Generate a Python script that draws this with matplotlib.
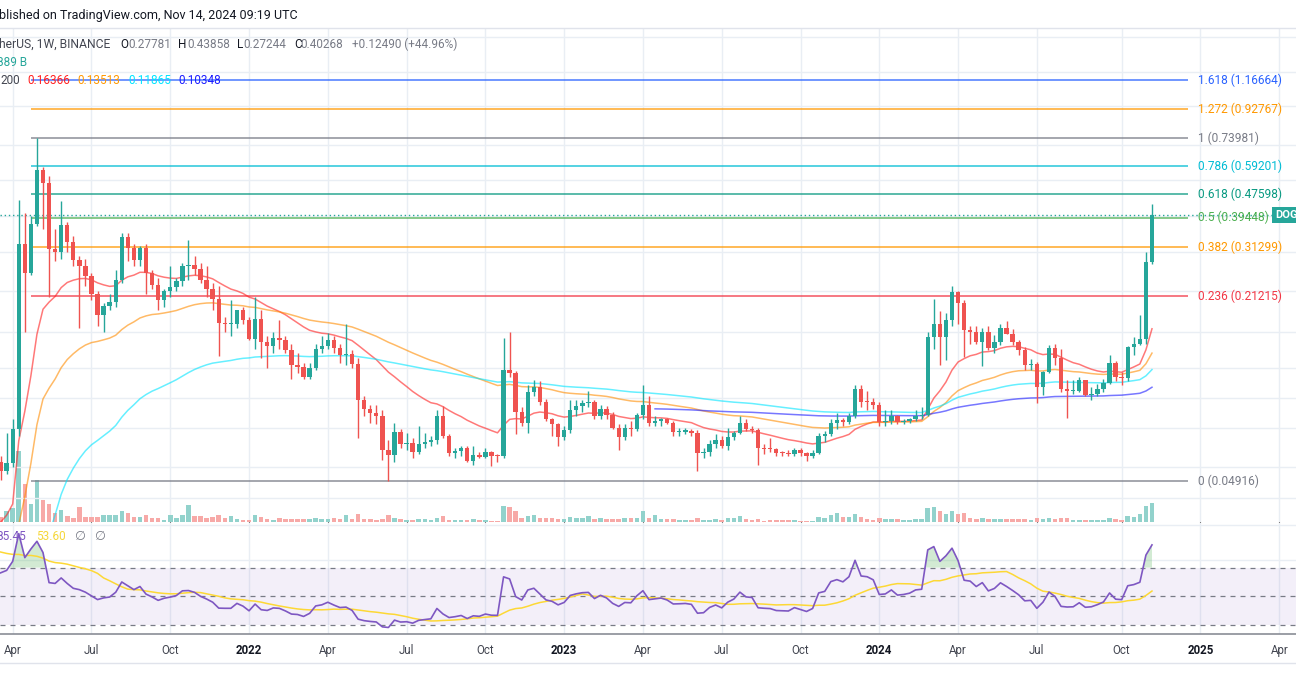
import numpy as np
import pandas as pd
import matplotlib
matplotlib.use("Agg")
import matplotlib.pyplot as plt
from matplotlib.lines import Line2D

plt.rcParams["font.family"] = ["Roboto", "DejaVu Sans"]

# weekly closes before the visible window (Jul 2019 .. Mar 15 2021), warm-up for EMA / RSI
hist_closes = [
    0.0032, 0.0031, 0.0030, 0.0029, 0.0031, 0.0028, 0.0027, 0.0026, 0.0026,
    0.0025, 0.0025, 0.0025, 0.0024, 0.0024, 0.0026, 0.0027, 0.0027, 0.0028,
    0.0028, 0.0027, 0.0024, 0.0022, 0.0021, 0.0020, 0.0020, 0.0020, 0.0020,
    0.0021, 0.0023, 0.0024, 0.0025, 0.0026, 0.0030, 0.0028, 0.0025, 0.0022,
    0.0017, 0.0017, 0.0018, 0.0019, 0.0019, 0.0020, 0.0021, 0.0025, 0.0025,
    0.0025, 0.0026, 0.0026, 0.0026, 0.0025, 0.0025, 0.0024, 0.0025, 0.0025,
    0.0033, 0.0032, 0.0032, 0.0032, 0.0034, 0.0033, 0.0035, 0.0029, 0.0027,
    0.0027, 0.0026, 0.0026, 0.0026, 0.0026, 0.0026, 0.0026, 0.0026, 0.0026,
    0.0027, 0.0032, 0.0034, 0.0034, 0.0033, 0.0045, 0.0047, 0.0050,
    0.0095, 0.0090, 0.0086, 0.0370, 0.0780, 0.0700, 0.0560, 0.0500, 0.0510,
    0.0590, 0.0572,
]

first_week = "2021-03-22"

opens = [
    0.0572, 0.0530, 0.0568, 0.0740, 0.3200, 0.2540, 0.3750, 0.5740, 0.5170, 0.3070,
    0.3000, 0.3720, 0.3250, 0.2820, 0.2700, 0.2480, 0.2160, 0.1820, 0.1960, 0.2030,
    0.2410, 0.3370, 0.3100, 0.2820, 0.3100, 0.2540, 0.2320, 0.2050, 0.2200, 0.2280,
    0.2380, 0.2700, 0.2720, 0.2620, 0.2400, 0.2250, 0.2070, 0.1710, 0.1700, 0.1700,
    0.1900, 0.1760, 0.1510, 0.1770, 0.1470, 0.1430, 0.1520, 0.1500, 0.1380, 0.1230,
    0.1210, 0.1120, 0.1200, 0.1400, 0.1430, 0.1500, 0.1410, 0.1330, 0.1340, 0.1240,
    0.0930, 0.0870, 0.0840, 0.0820, 0.0630, 0.0604, 0.0725, 0.0660, 0.0665, 0.0620,
    0.0660, 0.0670, 0.0680, 0.0820, 0.0700, 0.0614, 0.0625, 0.0640, 0.0575, 0.0606,
    0.0596, 0.0620, 0.0600, 0.0598, 0.1180, 0.1150, 0.0850, 0.0780, 0.0990, 0.1030,
    0.0920, 0.0800, 0.0770, 0.0695, 0.0736, 0.0860, 0.0890, 0.0910, 0.0915, 0.0820,
    0.0870, 0.0830, 0.0745, 0.0695, 0.0745, 0.0740, 0.0830, 0.0900, 0.0780, 0.0790,
    0.0800, 0.0775, 0.0725, 0.0727, 0.0730, 0.0720, 0.0614, 0.0618, 0.0660, 0.0680,
    0.0650, 0.0695, 0.0720, 0.0780, 0.0740, 0.0735, 0.0640, 0.0635, 0.0632, 0.0614,
    0.0612, 0.0610, 0.0628, 0.0614, 0.0600, 0.0614, 0.0700, 0.0710, 0.0780, 0.0796,
    0.0785, 0.0825, 0.1016, 0.0920, 0.0915, 0.0895, 0.0785, 0.0790, 0.0825, 0.0785,
    0.0790, 0.0800, 0.0825, 0.0830, 0.1540, 0.1700, 0.1540, 0.1760, 0.2190, 0.2000,
    0.1620, 0.1600, 0.1480, 0.1600, 0.1410, 0.1480, 0.1650, 0.1570, 0.1480, 0.1380,
    0.1230, 0.1240, 0.1030, 0.1160, 0.1410, 0.1300, 0.1020, 0.1000, 0.1005, 0.1090,
    0.0970, 0.0980, 0.1020, 0.1070, 0.1250, 0.1120, 0.1110, 0.1420, 0.1450, 0.1510,
    0.27781,
]
highs = [
    0.0600, 0.0720, 0.0800, 0.4520, 0.4100, 0.4000, 0.7398, 0.5900, 0.5500, 0.3600,
    0.4500, 0.3800, 0.3400, 0.2900, 0.2850, 0.2550, 0.2200, 0.2000, 0.2150, 0.2600,
    0.3500, 0.3500, 0.3200, 0.3150, 0.3200, 0.2600, 0.2450, 0.2250, 0.2700, 0.2450,
    0.2750, 0.3300, 0.2900, 0.2750, 0.2700, 0.2350, 0.2300, 0.1800, 0.2050, 0.1900,
    0.1950, 0.1800, 0.2100, 0.1900, 0.1550, 0.1600, 0.1750, 0.1550, 0.1450, 0.1350,
    0.1250, 0.1250, 0.1450, 0.1550, 0.1580, 0.1550, 0.1450, 0.1700, 0.1380, 0.1300,
    0.0960, 0.0900, 0.0900, 0.0860, 0.0680, 0.0780, 0.0740, 0.0720, 0.0690, 0.0760,
    0.0720, 0.0700, 0.0860, 0.0890, 0.0710, 0.0640, 0.0650, 0.0650, 0.0650, 0.0620,
    0.0640, 0.0625, 0.0610, 0.1520, 0.1600, 0.1170, 0.0880, 0.1050, 0.1090, 0.1080,
    0.0940, 0.0810, 0.0780, 0.0760, 0.0930, 0.0930, 0.0930, 0.1000, 0.0930, 0.0900,
    0.0890, 0.0850, 0.0770, 0.0770, 0.0790, 0.0840, 0.1050, 0.0960, 0.0820, 0.0810,
    0.0810, 0.0790, 0.0750, 0.0750, 0.0740, 0.0735, 0.0640, 0.0680, 0.0710, 0.0700,
    0.0750, 0.0730, 0.0820, 0.0800, 0.0760, 0.0750, 0.0660, 0.0690, 0.0640, 0.0625,
    0.0630, 0.0640, 0.0640, 0.0620, 0.0630, 0.0720, 0.0730, 0.0800, 0.0840, 0.0810,
    0.0840, 0.1050, 0.1050, 0.1000, 0.0950, 0.0920, 0.0860, 0.0860, 0.0830, 0.0800,
    0.0810, 0.0860, 0.0880, 0.1600, 0.2070, 0.1880, 0.1850, 0.2300, 0.2210, 0.2050,
    0.1680, 0.1670, 0.1650, 0.1680, 0.1560, 0.1700, 0.1740, 0.1640, 0.1500, 0.1420,
    0.1290, 0.1260, 0.1170, 0.1440, 0.1450, 0.1400, 0.1090, 0.1090, 0.1120, 0.1090,
    0.1030, 0.1060, 0.1100, 0.1330, 0.1270, 0.1160, 0.1430, 0.1530, 0.1820, 0.3000,
    0.43858,
]
lows = [
    0.0495, 0.0520, 0.0550, 0.0700, 0.1600, 0.2500, 0.3700, 0.3600, 0.2100, 0.2800,
    0.2850, 0.3000, 0.2700, 0.1650, 0.2300, 0.2050, 0.1680, 0.1600, 0.1900, 0.1950,
    0.2350, 0.2800, 0.2700, 0.2700, 0.2150, 0.2240, 0.1900, 0.1950, 0.2100, 0.2200,
    0.2300, 0.2400, 0.2500, 0.2350, 0.2100, 0.1900, 0.1320, 0.1600, 0.1550, 0.1650,
    0.1700, 0.1500, 0.1400, 0.1300, 0.1200, 0.1350, 0.1400, 0.1350, 0.1100, 0.1150,
    0.1100, 0.1100, 0.1180, 0.1350, 0.1400, 0.1350, 0.1250, 0.1230, 0.1200, 0.0690,
    0.0820, 0.0780, 0.0770, 0.0580, 0.04916, 0.0573, 0.0640, 0.0630, 0.0590, 0.0610,
    0.0640, 0.0650, 0.0660, 0.0690, 0.0600, 0.0590, 0.0600, 0.0570, 0.0560, 0.0590,
    0.0590, 0.0555, 0.0570, 0.0590, 0.1120, 0.0710, 0.0760, 0.0720, 0.0960, 0.0900,
    0.0790, 0.0700, 0.0650, 0.0680, 0.0720, 0.0820, 0.0850, 0.0880, 0.0800, 0.0800,
    0.0800, 0.0740, 0.0628, 0.0680, 0.0700, 0.0730, 0.0800, 0.0760, 0.0760, 0.0760,
    0.0770, 0.0700, 0.0700, 0.0710, 0.0700, 0.0530, 0.0590, 0.0600, 0.0640, 0.0640,
    0.0630, 0.0680, 0.0710, 0.0730, 0.0720, 0.0558, 0.0610, 0.0620, 0.0600, 0.0600,
    0.0600, 0.0600, 0.0600, 0.0575, 0.0590, 0.0610, 0.0670, 0.0700, 0.0740, 0.0760,
    0.0770, 0.0810, 0.0880, 0.0860, 0.0870, 0.0760, 0.0760, 0.0770, 0.0770, 0.0770,
    0.0780, 0.0790, 0.0800, 0.0820, 0.1400, 0.1230, 0.1280, 0.1680, 0.1700, 0.1310,
    0.1450, 0.1450, 0.1220, 0.1380, 0.1350, 0.1440, 0.1570, 0.1440, 0.1330, 0.1180,
    0.1180, 0.0910, 0.0970, 0.1150, 0.1230, 0.0990, 0.0810, 0.0980, 0.0990, 0.0960,
    0.0930, 0.0960, 0.0990, 0.1060, 0.1080, 0.1050, 0.1080, 0.1330, 0.1440, 0.1450,
    0.27244,
]
closes = [
    0.0530, 0.0568, 0.0740, 0.3200, 0.2540, 0.3750, 0.5740, 0.5170, 0.3070, 0.3000,
    0.3720, 0.3250, 0.2820, 0.2700, 0.2480, 0.2160, 0.1820, 0.1960, 0.2030, 0.2410,
    0.3370, 0.3100, 0.2820, 0.3100, 0.2540, 0.2320, 0.2050, 0.2200, 0.2280, 0.2380,
    0.2700, 0.2720, 0.2620, 0.2400, 0.2250, 0.2070, 0.1710, 0.1700, 0.1700, 0.1900,
    0.1760, 0.1510, 0.1770, 0.1470, 0.1430, 0.1520, 0.1500, 0.1380, 0.1230, 0.1210,
    0.1120, 0.1200, 0.1400, 0.1430, 0.1500, 0.1410, 0.1330, 0.1340, 0.1240, 0.0930,
    0.0870, 0.0840, 0.0820, 0.0630, 0.0604, 0.0725, 0.0660, 0.0665, 0.0620, 0.0660,
    0.0670, 0.0680, 0.0820, 0.0700, 0.0614, 0.0625, 0.0640, 0.0575, 0.0606, 0.0596,
    0.0620, 0.0600, 0.0598, 0.1180, 0.1150, 0.0850, 0.0780, 0.0990, 0.1030, 0.0920,
    0.0800, 0.0770, 0.0695, 0.0736, 0.0860, 0.0890, 0.0910, 0.0915, 0.0820, 0.0870,
    0.0830, 0.0745, 0.0695, 0.0745, 0.0740, 0.0830, 0.0900, 0.0780, 0.0790, 0.0800,
    0.0775, 0.0725, 0.0727, 0.0730, 0.0720, 0.0614, 0.0618, 0.0660, 0.0680, 0.0650,
    0.0695, 0.0720, 0.0780, 0.0740, 0.0735, 0.0640, 0.0635, 0.0632, 0.0614, 0.0612,
    0.0610, 0.0628, 0.0614, 0.0600, 0.0614, 0.0700, 0.0710, 0.0780, 0.0796, 0.0785,
    0.0825, 0.1016, 0.0920, 0.0915, 0.0895, 0.0785, 0.0790, 0.0825, 0.0785, 0.0790,
    0.0800, 0.0825, 0.0830, 0.1540, 0.1700, 0.1540, 0.1760, 0.2190, 0.2000, 0.1620,
    0.1600, 0.1480, 0.1600, 0.1410, 0.1480, 0.1650, 0.1570, 0.1480, 0.1380, 0.1230,
    0.1240, 0.1030, 0.1160, 0.1410, 0.1300, 0.1020, 0.1000, 0.1005, 0.1090, 0.0970,
    0.0980, 0.1020, 0.1070, 0.1250, 0.1120, 0.1110, 0.1420, 0.1450, 0.1510, 0.27778,
    0.40268,
]
# weekly volume, billions of DOGE
volumes = [
    6.9, 15.7, 20.6, 103.9, 55.9, 26.5, 61.7, 32.3, 26.5, 13.2,
    17.2, 8.4, 5.9, 21.6, 7.4, 6.9, 6.9, 9.8, 9.8, 9.8,
    15.7, 13.2, 7.4, 6.9, 9.8, 5.9, 5.9, 3.4, 10.7, 5.9,
    10.7, 24.5, 8.4, 8.4, 5.9, 6.9, 9.8, 5.9, 8.4, 4.9,
    3.4, 3.4, 9.8, 6.9, 4.9, 3.4, 5.9, 4.9, 4.9, 3.7,
    3.7, 3.7, 5.9, 4.4, 4.4, 5.9, 4.4, 10.3, 4.4, 11.8,
    4.4, 3.7, 2.9, 4.0, 9.8, 6.3, 4.9, 2.5, 2.9, 4.4,
    4.4, 2.9, 6.3, 8.8, 3.4, 2.9, 3.4, 3.4, 4.4, 2.9,
    3.4, 1.9, 1.5, 23.5, 21.6, 16.6, 5.9, 9.3, 9.8, 5.9,
    5.9, 5.4, 4.4, 4.0, 7.8, 5.9, 5.9, 9.3, 4.9, 5.9,
    4.4, 4.0, 4.9, 5.4, 5.4, 5.4, 16.2, 6.3, 9.8, 4.0,
    4.0, 4.0, 2.9, 2.5, 2.5, 5.9, 2.9, 3.4, 4.0, 2.9,
    5.9, 5.9, 9.3, 4.4, 2.5, 4.9, 1.9, 3.4, 2.9, 2.9,
    2.9, 2.5, 1.9, 1.9, 1.9, 6.9, 5.9, 10.3, 13.2, 6.9,
    6.9, 11.8, 7.8, 4.9, 3.4, 5.9, 4.4, 4.4, 4.4, 3.4,
    2.9, 4.4, 4.4, 20.6, 22.1, 16.2, 11.8, 16.2, 11.8, 13.2,
    5.9, 4.4, 5.9, 4.4, 4.4, 5.1, 4.4, 3.7, 4.4, 4.4,
    2.9, 5.9, 4.4, 6.6, 3.7, 5.9, 5.9, 2.9, 2.9, 2.9,
    2.9, 2.9, 2.9, 5.9, 4.4, 2.9, 8.8, 7.4, 11.8, 23.5,
    27.9,
]

fib_ratios = ["0", "0.236", "0.382", "0.5", "0.618", "0.786", "1", "1.272", "1.618"]
fib_prices = [0.04916, 0.21215, 0.31299, 0.39448, 0.47598, 0.59201, 0.73981, 0.92767, 1.16664]
fib_colors = ["#787b86", "#f23645", "#ff9800", "#4caf50", "#089981",
              "#00bcd4", "#787b86", "#ff9800", "#2962ff"]

ema_lengths = [20, 50, 100, 200]
ema_colors = ["#ff1f1f", "#ff8c00", "#00e5ff", "#1c1cff"]
ema_readouts = ["0.16366", "0.13513", "0.11865", "0.10348"]
rsi_readouts = ["85.45", "53.60"]
volume_readout = "889 B"

grid_prices = [0.043, 0.055, 0.075, 0.095, 0.12, 0.16, 0.22, 0.30, 0.40, 0.53, 0.70, 0.95, 1.25, 1.65]


def tv_ema(values, length, alpha=None):
    # TradingView style: seeded with the SMA of the first `length` values
    values = np.asarray(values, dtype=float)
    out = np.full(len(values), np.nan)
    a = 2.0 / (length + 1) if alpha is None else alpha
    if len(values) < length:
        return out
    out[length - 1] = values[:length].mean()
    for i in range(length, len(values)):
        out[i] = a * values[i] + (1 - a) * out[i - 1]
    return out


def tv_rsi(values, length=14):
    values = np.asarray(values, dtype=float)
    diff = np.diff(values)
    up = tv_ema(np.maximum(diff, 0), length, alpha=1.0 / length)
    dn = tv_ema(np.maximum(-diff, 0), length, alpha=1.0 / length)
    rsi = 100 - 100 / (1 + up / dn)
    return np.concatenate([[np.nan], rsi])


W, H = 1296, 700
fig = plt.figure(figsize=(W / 100, H / 100), dpi=100)
fig.patch.set_facecolor("white")


def px(x, y):
    return x / W, 1 - y / H


n = len(closes)
nh = len(hist_closes)
full_close = np.array(hist_closes + closes)
o = np.array(opens)
h = np.array(highs)
l = np.array(lows)
c = np.array(closes)
x = np.arange(n)

emas = [tv_ema(full_close, L)[nh:] for L in ema_lengths]
rsi_full = tv_rsi(full_close)
rsi_ma = pd.Series(rsi_full).rolling(14).mean().to_numpy()[nh:]
rsi = rsi_full[nh:]

# pixel geometry of the TradingView panes
x_left, x_right = -0.58 / 6.06, (W - 0.58) / 6.06
main_top, main_bot = 28, 522
rsi_top, rsi_bot = 523, 634

ax = fig.add_axes([0, 1 - main_bot / H, 1, (main_bot - main_top) / H])
axv = ax.twinx()
axr = fig.add_axes([0, 1 - rsi_bot / H, 1, (rsi_bot - rsi_top) / H], sharex=ax)

axv.set_zorder(ax.get_zorder() - 1)
ax.patch.set_visible(False)
axv.patch.set_facecolor("white")

# time ticks: first weekly bar of each quarter month
dates = pd.date_range(first_week, periods=n + 30, freq="7D")
tick_pos, tick_lab, tick_year = [], [], []
for i in range(1, len(dates)):
    d = dates[i]
    if d.month != dates[i - 1].month and d.month in (1, 4, 7, 10):
        tick_pos.append(i)
        tick_year.append(d.month == 1)
        tick_lab.append(str(d.year) if d.month == 1 else d.strftime("%b"))

grid_col = "#e9eef4"
for t in tick_pos:
    axv.axvline(t, color=grid_col, lw=1, zorder=0)
    axr.axvline(t, color=grid_col, lw=1, zorder=0)
for g in grid_prices:
    ax.axhline(g, color=grid_col, lw=1, zorder=0)
for g in [75, 100]:
    axr.axhline(g, color=grid_col, lw=1, zorder=0)

up = c >= o
col = np.where(up, "#26a69a", "#ef5350")
vol_col = np.where(up, "#92d2cc", "#f7a9a7")

# volume overlay
axv.bar(x, volumes, width=0.75, color=vol_col, linewidth=0, zorder=1)
axv.set_ylim(0, (main_bot - main_top) * 1.47)
axv.set_yticks([])
for s in axv.spines.values():
    s.set_visible(False)

# fibonacci retracement
for ratio, price, fc in zip(fib_ratios, fib_prices, fib_colors):
    ax.hlines(price, 5.0, 195.9, color=fc, lw=1.1, alpha=0.85, zorder=1)
    ax.text(197.6, price, f"{ratio} ({price:.5f})", color=fc, fontsize=8.6,
            va="center", ha="left", zorder=5)

# EMAs
for e, ec in zip(emas, ema_colors):
    ax.plot(x, e, color=ec, lw=1.1, alpha=0.6, zorder=2)

# candles
body_lo = np.minimum(o, c)
body_h = np.maximum(np.abs(c - o), body_lo * 0.008)
ax.vlines(x, l, h, color=col, lw=1, zorder=3)
ax.bar(x, body_h, bottom=body_lo, width=0.72, color=col, linewidth=0, zorder=4)

# last price line and tag
ax.axhline(c[-1], color="#26a69a", lw=1, ls=(0, (1, 2)), zorder=2)
ax.text(1275 / W, c[-1], "DOGEUSDT", transform=ax.get_yaxis_transform(),
        color="white", fontsize=8, va="center", ha="left", fontweight="bold",
        bbox=dict(boxstyle="square,pad=0.25", fc="#26a69a", ec="none"), zorder=6)

ax.set_yscale("log")
ax.set_ylim(0.04916 * np.exp(-(main_bot - 481) / 126.5), 0.04916 * np.exp((481 - main_top) / 126.5))
ax.set_xlim(x_left, x_right)
ax.set_xticks([])
ax.set_yticks([])
ax.yaxis.set_minor_locator(matplotlib.ticker.NullLocator())
for s in ax.spines.values():
    s.set_visible(False)

# RSI pane
axr.axhspan(30, 70, color="#7e57c2", alpha=0.09, lw=0, zorder=0)
for lvl in (70, 50, 30):
    axr.axhline(lvl, color="#787b86", lw=0.9, ls=(0, (4, 4)), zorder=1)
axr.fill_between(x, rsi, 70, where=rsi >= 70, interpolate=True, color="#4caf50",
                 alpha=0.25, lw=0, zorder=1)
axr.plot(x, rsi_ma, color="#fdd835", lw=1.1, zorder=2)
axr.plot(x, rsi, color="#7e57c2", lw=1.2, zorder=3)
axr.set_ylim(50 - (rsi_bot - 596.3) / 1.435, 50 + (596.3 - rsi_top) / 1.435)
axr.set_yticks([])
for s in ("top", "left", "right"):
    axr.spines[s].set_visible(False)
axr.spines["bottom"].set_color("#8a8d96")
axr.spines["bottom"].set_linewidth(1.2)
axr.set_xticks(tick_pos)
axr.set_xticklabels(tick_lab)
axr.tick_params(axis="x", length=0, pad=7, labelsize=8.3, labelcolor="#434651")
for lab, yr in zip(axr.get_xticklabels(), tick_year):
    if yr:
        lab.set_fontweight("bold")
        lab.set_color("#131722")
axr.set_xlim(x_left, x_right)

# frame lines
fig.add_artist(Line2D([0, 1], [1 - main_top / H] * 2, color="#e0e3eb", lw=1))
fig.add_artist(Line2D([0, 1], [1 - 663 / H] * 2, color="#e0e3eb", lw=1))

# header texts
dark, grey = "#131722", "#787b86"
fig.text(*px(-1, 15), "blished on TradingView.com, Nov 14, 2024 09:19 UTC",
         fontsize=9, color=dark, va="center")
fig.text(*px(-1, 44), "herUS, 1W, BINANCE", fontsize=8.7, color="#434651", va="center")
chg = c[-1] - c[-2]
ohlc_parts = [("O", 120, dark), (f"{o[-1]:.5f}", 128, grey),
              ("H", 178, dark), (f"{h[-1]:.5f}", 187, grey),
              ("L", 237, dark), (f"{l[-1]:.5f}", 243, grey),
              ("C", 294, dark), (f"{c[-1]:.5f}", 300, grey),
              (f"+{chg:.5f} (+{chg / c[-2] * 100:.2f}%)", 352, grey)]
for txt, xx, cc in ohlc_parts:
    fig.text(*px(xx, 44), txt, fontsize=8.5, color=cc, va="center")
fig.text(*px(-3, 62), volume_readout, fontsize=8.5, color="#26a69a", va="center")
fig.text(*px(0, 80), "200", fontsize=8.5, color="#434651", va="center")
for txt, xx, cc in zip(ema_readouts, [27, 77, 128, 178], ["#ff1f1f", "#ff9800", "#00e5ff", "#1c1cff"]):
    fig.text(*px(xx, 80), txt, fontsize=8.5, color=cc, va="center")

fig.text(*px(-4, 537), rsi_readouts[0], fontsize=8.5, color="#7e57c2", va="center")
fig.text(*px(36, 537), rsi_readouts[1], fontsize=8.5, color="#f5d73b", va="center")
for xx in (79, 99):
    fig.text(*px(xx, 537), "\u2205", fontsize=9, color=grey, va="center", ha="center",
             family="DejaVu Sans")

fig.savefig("out.png", dpi=100)
